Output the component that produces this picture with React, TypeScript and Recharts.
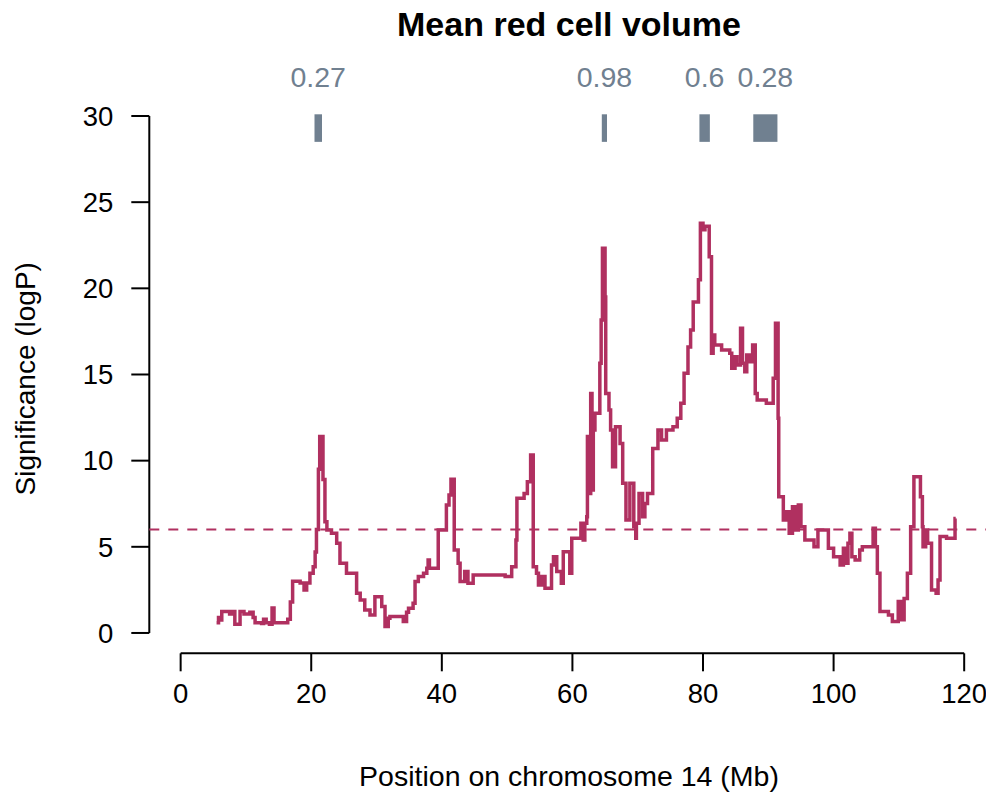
import { ComposedChart, Line, XAxis, YAxis, ReferenceLine, ReferenceArea } from 'recharts';

// position on chromosome 14 (Mb) and significance (-log10 P)
const positionMb = [
  5.5, 5.8, 6.0, 6.3, 7.5, 8.0, 8.3, 9.1, 9.7, 10.6, 11.1, 11.4, 12.4, 12.7, 13.1, 13.6, 14.0, 14.3, 16.4, 16.8,
  17.15, 18.3, 18.9, 19.3, 19.8, 20.3, 20.6, 20.8, 21.1, 21.3, 21.8, 22.1, 22.4, 23.1, 23.9, 24.4, 25.4, 26.95, 27.5, 28.2,
  29.0, 29.75, 30.8, 31.3, 31.8, 32.05, 34.1, 34.6, 34.9, 35.6, 35.9, 36.4, 37.2, 37.7, 37.9, 38.1, 39.45, 40.7, 41.1, 41.4,
  41.9, 42.5, 42.8, 43.5, 44.0, 44.8, 49.7, 50.7, 51.35, 51.5, 52.6, 53.1, 53.6, 54.0, 54.5, 54.8, 55.3, 55.8, 56.8, 57.1,
  57.6, 58.3, 58.6, 59.6, 59.9, 61.3, 61.65, 61.9, 62.2, 62.3, 62.5, 62.8, 63.0, 63.2, 63.45, 64.2, 64.4, 64.6, 65.0, 65.1,
  65.6, 65.85, 66.15, 66.6, 67.3, 67.7, 68.2, 68.8, 69.4, 69.7, 69.8, 70.2, 70.75, 71.1, 71.5, 72.3, 73.1, 73.65, 74.4, 75.4,
  76.05, 76.6, 77.1, 77.7, 78.1, 78.5, 79.3, 79.6, 80.0, 80.3, 80.95, 81.3, 81.55, 81.8, 82.85, 84.1, 84.4, 84.9, 85.2, 85.75,
  86.05, 86.4, 86.7, 87.2, 87.6, 88.0, 88.3, 89.7, 90.75, 91.1, 91.5, 91.6, 92.3, 92.7, 93.2, 93.7, 94.1, 94.6, 95.0, 95.6,
  97.0, 97.6, 99.2, 100.0, 101.0, 101.5, 101.9, 102.2, 102.5, 102.8, 103.3, 104.0, 104.4, 106.05, 106.4, 106.7, 107.1, 108.4, 109.0, 109.9,
  110.3, 110.8, 111.3, 111.8, 112.3, 113.3, 113.6, 113.7, 114.1, 114.4, 115.0, 115.7, 116.0, 116.3, 117.3, 118.6, 118.7,
];
const logP = [
  0.6, 0.9, 0.75, 1.25, 1.1, 1.25, 0.5, 1.25, 1.1, 1.2, 0.9, 0.6, 0.55, 0.8, 0.6, 0.5, 1.45, 0.6, 0.8, 1.8,
  3.0, 2.9, 2.5, 2.9, 3.46, 3.85, 4.7, 6.0, 9.5, 11.4, 8.9, 6.46, 5.98, 5.79, 5.2, 4.04, 3.46, 2.3, 1.91, 1.33,
  1.04, 2.1, 1.53, 0.37, 0.85, 0.95, 0.66, 1.2, 1.43, 1.72, 2.98, 3.27, 3.46, 3.75, 4.24, 3.75, 5.98, 7.43, 8.0, 8.92,
  4.82, 4.04, 2.98, 3.56, 2.88, 3.37, 3.27, 3.85, 5.4, 7.82, 8.1, 8.78, 10.33, 3.85, 3.46, 2.79, 3.27, 2.59, 3.95, 4.43,
  3.56, 2.88, 4.72, 3.46, 5.5, 6.36, 5.4, 6.36, 6.75, 11.4, 8.1, 13.9, 8.3, 11.78, 12.75, 15.65, 18.16, 22.32, 19.5, 13.9,
  12.94, 11.78, 9.65, 11.97, 11.0, 8.69, 6.56, 8.69, 6.17, 5.5, 6.36, 8.1, 6.75, 7.52, 8.1, 10.7, 11.78, 11.2, 11.78, 11.97,
  12.46, 13.33, 15.07, 16.6, 17.58, 19.2, 20.5, 23.77, 23.4, 23.6, 21.84, 16.23, 17.29, 16.71, 16.42, 16.23, 15.36, 16.03, 15.55, 17.68,
  15.65, 15.16, 16.13, 15.74, 16.71, 13.9, 13.52, 13.33, 14.78, 17.97, 12.46, 7.91, 6.56, 7.04, 5.79, 7.33, 5.98, 7.43, 6.17, 5.4,
  5.0, 5.98, 4.92, 4.43, 3.95, 4.92, 4.04, 5.2, 5.79, 4.43, 4.24, 4.82, 5.0, 6.07, 5.0, 3.46, 1.24, 1.04, 0.66, 1.82,
  0.76, 2.0, 3.46, 6.17, 9.07, 7.91, 6.17, 5.0, 5.98, 5.2, 2.5, 2.3, 3.08, 5.6, 5.5, 6.65, 6.65,
];

const xTicks = [0, 20, 40, 60, 80, 100, 120];
const yTicks = [0, 5, 10, 15, 20, 25, 30];
const xDomain = [-4.8, 123.8];
const yDomain = [-1.18, 30.68];
const threshold = 6;

// credible interval blocks shown above the plot
const blockStart = [20.5, 64.5, 79.45, 87.7];
const blockEnd = [21.65, 65.3, 81.05, 91.4];
const blockLabels = ['0.27', '0.98', '0.6', '0.28'];
const blockBottom = 28.5;
const blockTop = 30.1;

const chartData = positionMb.map((x, i) => ({ x, logP: logP[i] }));

const FONT = '"Liberation Sans", Arial, Helvetica, sans-serif';
const W = 986;
const H = 791;

export default function App() {
  return (
    <div style={{ position: 'relative', width: W, height: H, fontFamily: FONT }}>
      <ComposedChart
        width={W}
        height={H}
        data={chartData}
        margin={{ top: 96.3, right: 5, bottom: 85.7, left: 0 }}
      >
        <XAxis
          dataKey="x"
          type="number"
          domain={xDomain}
          ticks={xTicks}
          allowDataOverflow
          axisLine={false}
          tickLine={{ stroke: '#000', strokeWidth: 2 }}
          tickSize={18}
          tickMargin={12}
          height={60}
          tick={{ fill: '#000', fontSize: 27.5, fontFamily: FONT }}
        />
        <YAxis
          type="number"
          domain={yDomain}
          ticks={yTicks}
          allowDataOverflow
          axisLine={false}
          tickLine={{ stroke: '#000', strokeWidth: 2 }}
          tickSize={18}
          tickMargin={18}
          width={141.3}
          tick={{ fill: '#000', fontSize: 27.5, fontFamily: FONT }}
        />
        {/* detached R-style axis lines */}
        <ReferenceLine
          segment={[{ x: xTicks[0], y: yDomain[0] }, { x: xTicks[xTicks.length - 1], y: yDomain[0] }]}
          stroke="#000"
          strokeWidth={2}
          ifOverflow="visible"
        />
        <ReferenceLine
          segment={[{ x: xDomain[0], y: yTicks[0] }, { x: xDomain[0], y: yTicks[yTicks.length - 1] }]}
          stroke="#000"
          strokeWidth={2}
          ifOverflow="visible"
        />
        <ReferenceLine y={threshold} stroke="#B03060" strokeWidth={2} strokeDasharray="10 9" />
        {blockLabels.map((lab, i) => (
          <ReferenceArea
            key={lab + i}
            x1={blockStart[i]}
            x2={blockEnd[i]}
            y1={blockBottom}
            y2={blockTop}
            fill="#708090"
            fillOpacity={1}
            stroke="none"
            ifOverflow="visible"
            label={{ value: lab, position: 'top', offset: 27, fill: '#708090', fontSize: 28.5, fontFamily: FONT }}
          />
        ))}
        <Line
          type="stepAfter"
          dataKey="logP"
          stroke="#B03060"
          strokeWidth={3.5}
          dot={false}
          activeDot={false}
          isAnimationActive={false}
        />
      </ComposedChart>
      <svg
        width={W}
        height={H}
        style={{ position: 'absolute', left: 0, top: 0, pointerEvents: 'none', overflow: 'visible' }}
      >
        <text x={561} y={28} textAnchor="middle" fontSize={34} fontWeight="bold" fontFamily={FONT} fill="#000">
          Mean red cell volume
        </text>
        <text x={561} y={778} textAnchor="middle" fontSize={28.5} fontFamily={FONT} fill="#000">
          Position on chromosome 14 (Mb)
        </text>
        <text
          transform="translate(27, 370.8) rotate(-90)"
          textAnchor="middle"
          fontSize={28}
          fontFamily={FONT}
          fill="#000"
        >
          Significance (logP)
        </text>
      </svg>
    </div>
  );
}
